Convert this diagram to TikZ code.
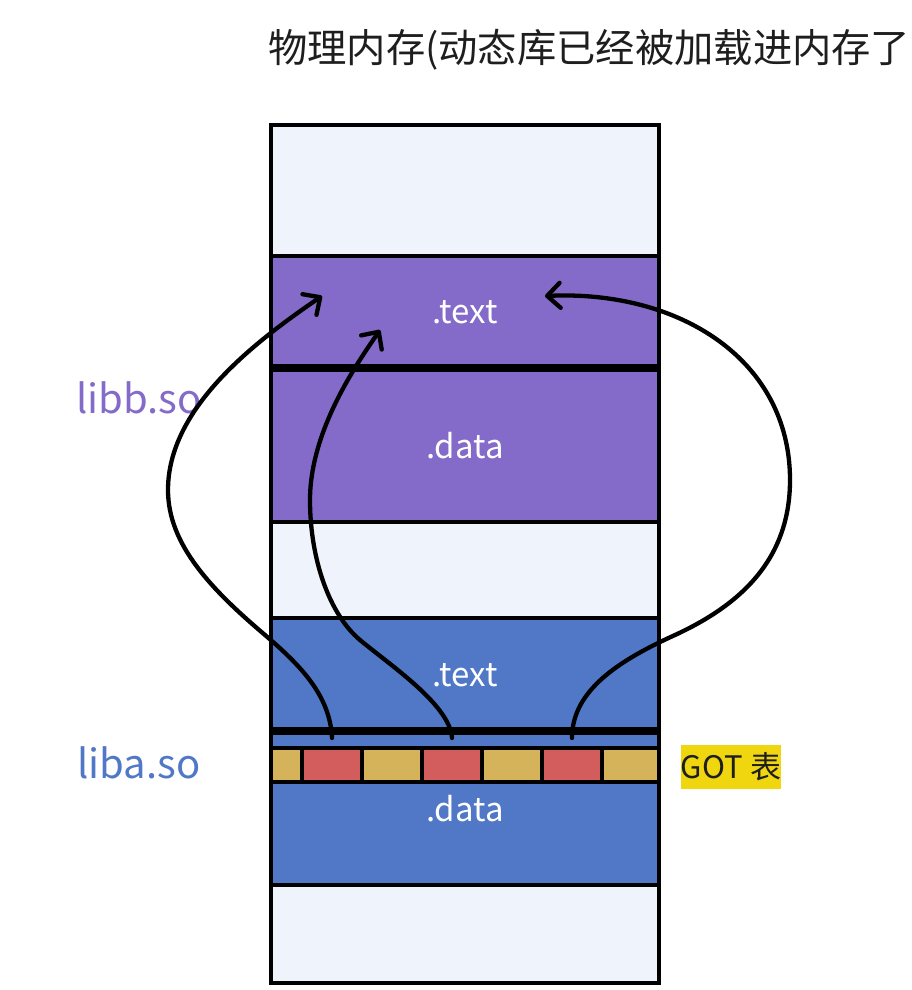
\documentclass[tikz,border=0pt]{standalone}
\usepackage{fontspec}
\setmainfont{Noto Sans CJK SC}
\usepackage{xcolor}
\definecolor{mylight}{RGB}{239,243,252}
\definecolor{mypurple}{RGB}{132,107,201}
\definecolor{myblue}{RGB}{80,120,199}
\definecolor{mygold}{RGB}{212,179,90}
\definecolor{myred}{RGB}{211,93,93}
\definecolor{myyellow}{RGB}{240,214,15}
\definecolor{myink}{RGB}{30,30,30}
\usetikzlibrary{arrows.meta,positioning,calc}

\begin{document}
\begin{tikzpicture}[
  x=1pt, y=-1pt,
  mysection/.style={
    draw,
    line width=3.5pt,
    fill=#1,
    rectangle,
    anchor=north west,
    inner sep=0pt,
    outer sep=0pt,
    minimum width=388pt,
    text=white,
    text height=26pt,
    font=\fontsize{33}{40}\selectfont
    },
  gotcell/.style={
    draw,
    line width=3.5pt,
    fill=#1,
    rectangle,
    inner sep=0pt,
    outer sep=0pt,
    minimum height=34pt
    },
  liblabel/.style={
    text=#1,
    font=\fontsize{40}{48}\selectfont
    },
  link/.style={
    line width=4.3pt,
    line cap=round,
    -{Straight Barb[length=13pt,width=25pt,round]}
  }
]
\useasboundingbox (0,0) rectangle (912,990);

% title
\node[anchor=west, inner sep=0pt, text=myink, font=\fontsize{39.3}{46}\selectfont]
  (title) at (268,50) {物理内存(动态库已经被加载进内存了};

% memory column
\node[mysection=mylight, line width=4pt, minimum height=858pt] (mem) at (271,125) {};
\node[mysection=mypurple, minimum height=110pt] (bbtext) at (271,256) {.text};
\node[mysection=mypurple, minimum height=152pt] (bbdata) at (271,370) {.data};
\node[mysection=myblue, minimum height=111pt] (aatext) at (271,618) {.text};
\node[mysection=myblue, minimum height=152pt] (aadata) at (271,733) {.data};

% GOT row
\foreach \Left/\Right/\Color [count=\Celli from 1] in
  {271/302/mygold, 302/362/myred, 362/422/mygold, 422/482/myred,
   482/542/mygold, 542/602/myred, 602/659/mygold}
  \node[gotcell=\Color, minimum width={(\Right-\Left)*1pt}]
    (got\Celli) at ({(\Left+\Right)/2},765) {};

\node[fill=myyellow, text=myink, inner sep=0pt, minimum width=99pt, minimum height=44pt,
  font=\fontsize{31}{38}\selectfont]
  (gotlabel) at (731,767) {GOT 表};

% library names
\node[liblabel=mypurple] (libb) at (139,398) {libb.so};
\node[liblabel=myblue] (liba) at (139,763) {liba.so};

% targets in libb .text
\coordinate (tipa) at (322,296);
\coordinate (tipb) at (380,330);
\coordinate (tipc) at (545,296);

% jumps through the GOT
\draw[link] ($(got2.north)+(0,-10)$)
  .. controls (330,695) and (300,665) .. (265,635)
  .. controls (212,590) and (168,545) .. (168,490)
  .. controls (168,410) and (250,345) .. (tipa);
\draw[link] ($(got4.north)+(0,-10)$)
  .. controls (450,705) and (390,665) .. (360,640)
  .. controls (330,615) and (310,560) .. (310,500)
  .. controls (310,430) and (358,362) .. (tipb);
\draw[link] ($(got6.north)+(0,-10)$)
  .. controls (572,690) and (620,660) .. (675,635)
  .. controls (740,605) and (790,560) .. (790,480)
  .. controls (790,360) and (680,290) .. (tipc);

\end{tikzpicture}
\end{document}
